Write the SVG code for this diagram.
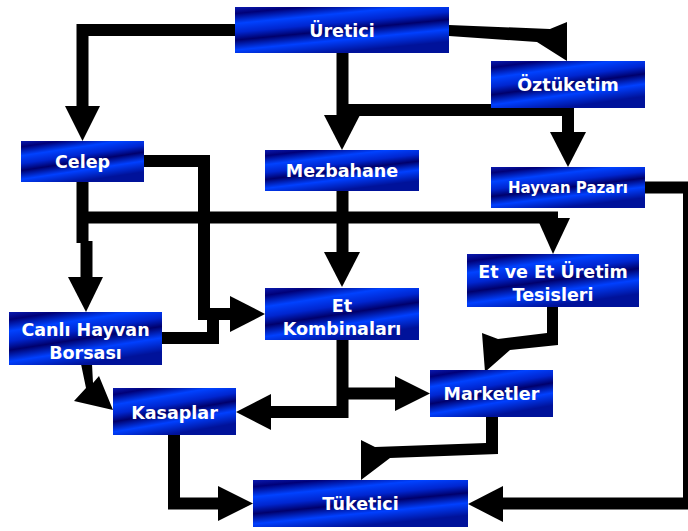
<svg xmlns="http://www.w3.org/2000/svg" width="688" height="531" viewBox="0 0 688 531">
<defs>
<linearGradient id="blue" x1="0" y1="0" x2="0.45" y2="1">
<stop offset="0" stop-color="#0a1ab0"/>
<stop offset="0.12" stop-color="#000078"/>
<stop offset="0.3" stop-color="#0042ff"/>
<stop offset="0.46" stop-color="#0026d0"/>
<stop offset="0.6" stop-color="#00006c"/>
<stop offset="0.78" stop-color="#0040ff"/>
<stop offset="1" stop-color="#00129a"/>
</linearGradient>
<style>
.box{fill:url(#blue);}
.t{fill:#ffffff;font-family:"DejaVu Sans","Liberation Sans",sans-serif;font-weight:bold;font-size:17.5px;text-anchor:middle;}
.s{font-size:15px;}
.ln{fill:none;stroke:#000;stroke-width:12;stroke-linejoin:miter;stroke-linecap:butt;}
.ah{fill:#000;}
</style>
</defs>
<rect width="688" height="531" fill="#fff"/>
<g id="connectors">
<path class="ln" d="M235,30 H82.5 V108"/>
<polygon class="ah" points="65,106 100,106 82.5,141"/>
<path class="ln" d="M342.5,53 V117"/>
<polygon class="ah" points="324,115 360,115 342,150"/>
<path class="ln" d="M342.5,110 H568 V134"/>
<polygon class="ah" points="550,132 586,132 568,167"/>
<polygon class="ah" points="449,25 550,29 567,22 567,61 537,42 449,36"/>
<path class="ln" d="M144,161 H204 V314 H232"/>
<polygon class="ah" points="230,296 230,332 265,314"/>
<path class="ln" d="M162,338 H213 V314"/>
<path class="ln" d="M82.5,182 V243"/>
<path class="ln" d="M86.5,241 V279"/>
<polygon class="ah" points="68,277 103,277 86,312"/>
<path class="ln" d="M77,217.5 H558"/>
<polygon class="ah" points="537,218 570,218 553,254"/>
<path class="ln" d="M342.5,191 V254"/>
<polygon class="ah" points="324,252 360,252 342,287"/>
<path class="ln" d="M645,187.5 H689 V503.5 H501"/>
<polygon class="ah" points="503,486 503,522 468,504"/>
<path class="ln" d="M342.5,340 V418"/>
<path class="ln" d="M348,412 H269"/>
<polygon class="ah" points="271,394 271,430 236,412"/>
<path class="ln" d="M337,393.5 H397"/>
<polygon class="ah" points="395,376 395,411 430,393.5"/>
<path class="ln" d="M174,435 V503.5 H220"/>
<polygon class="ah" points="218,486 218,521 253,503.5"/>
<polygon class="ah" points="81,364 92,364 93,383 99,376 113,410 74,401 86,388"/>
<polygon class="ah" points="547,307 558,307 558,345 510,350 485,372 482,333 498,339 547,333"/>
<polygon class="ah" points="486,417 498,417 498,454 390,458 361,480 361,440 375,447 486,443"/>
</g>
<g id="uretici"><rect class="box" x="235" y="7" width="214" height="46"/><text class="t" x="342" y="36.5">Üretici</text></g>
<g id="oztuketim"><rect class="box" x="491" y="61" width="154" height="47"/><text class="t" x="568" y="91">Öztüketim</text></g>
<g id="celep"><rect class="box" x="21" y="141" width="123" height="41"/><text class="t" x="82.5" y="168">Celep</text></g>
<g id="mezbahane"><rect class="box" x="265" y="150" width="154" height="41"/><text class="t" x="342" y="177">Mezbahane</text></g>
<g id="hayvan-pazari"><rect class="box" x="491" y="167" width="154" height="41"/><text class="t s" x="568" y="193">Hayvan Pazarı</text></g>
<g id="et-ve-et-uretim"><rect class="box" x="467" y="254" width="172" height="53"/><text class="t" x="553" y="278">Et ve Et Üretim</text><text class="t" x="553" y="301">Tesisleri</text></g>
<g id="et-kombinalari"><rect class="box" x="265" y="288" width="154" height="52"/><text class="t" x="342" y="312">Et</text><text class="t" x="342" y="335">Kombinaları</text></g>
<g id="canli-hayvan-borsasi"><rect class="box" x="9" y="312" width="153" height="53"/><text class="t" x="85.5" y="336">Canlı Hayvan</text><text class="t" x="85.5" y="359">Borsası</text></g>
<g id="kasaplar"><rect class="box" x="113" y="388" width="123" height="47"/><text class="t" x="174.5" y="418.5">Kasaplar</text></g>
<g id="marketler"><rect class="box" x="430" y="370" width="123" height="47"/><text class="t" x="491.5" y="400">Marketler</text></g>
<g id="tuketici"><rect class="box" x="253" y="480" width="215" height="47"/><text class="t" x="360.5" y="510">Tüketici</text></g>
</svg>
